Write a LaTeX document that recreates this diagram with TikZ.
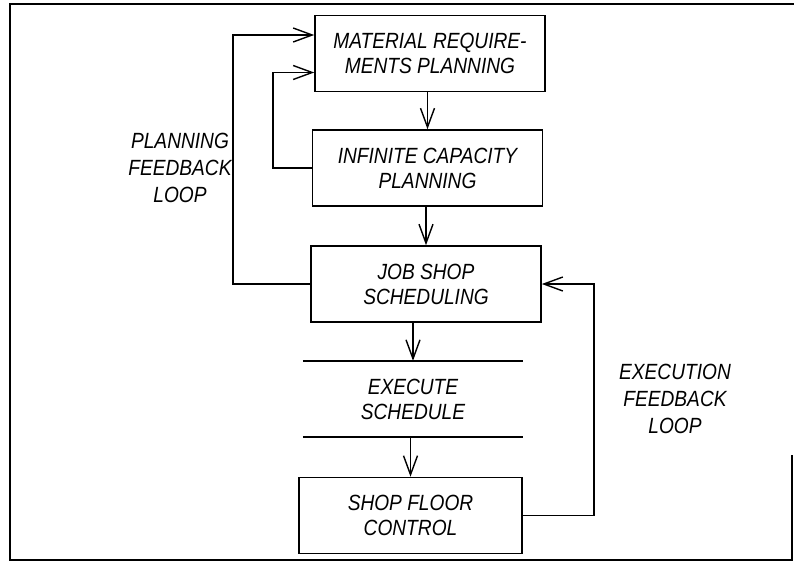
\documentclass[tikz,border=0pt]{standalone}
\usepackage{fontspec}
\newfontfamily\lettering[FakeStretch=0.87]{Liberation Sans}
\usetikzlibrary{positioning, arrows.meta}

\begin{document}
\begin{tikzpicture}[x=1pt, y=-1pt,
  stage/.style={draw, line width=1.6pt, minimum width=230pt, minimum height=76pt, inner sep=0pt},
  txt/.style={align=center, font=\lettering\itshape\fontsize{22}{25}\selectfont},
  looptxt/.style={align=center, font=\lettering\itshape\fontsize{22}{27}\selectfont},
  flow/.style={line width=1.6pt, -{Straight Barb[length=19pt, width=14pt, line width=1.4pt]}}]
\useasboundingbox (0,0) rectangle (794,565);
% frame
\draw[line width=2.5pt] (792,455) -- (792,560) -- (10,560) -- (10,4) -- (794,4);

% planning stages
\node[stage, txt] (mrp) at (430,53.5) {MATERIAL REQUIRE-\\MENTS PLANNING};
\node[stage, txt] (icp) at (427.5,168) {INFINITE CAPACITY\\PLANNING};
\node[stage, txt] (jss) at (426,284) {JOB SHOP\\SCHEDULING};

% execution between two lines
\node[txt, minimum width=220pt, minimum height=76pt] (exe) at (413,399) {EXECUTE\\SCHEDULE};
\draw[line width=1.6pt] (exe.north west) -- (exe.north east);
\draw[line width=1.6pt] (exe.south west) -- (exe.south east);

\node[stage, txt, minimum width=223pt] (sfc) at (410.5,515.5) {SHOP FLOOR\\CONTROL};

% loop labels
\node[looptxt] (planloop) at (180,168) {PLANNING\\FEEDBACK\\LOOP};
\node[looptxt] (execloop) at (675,399) {EXECUTION\\FEEDBACK\\LOOP};

% main flow
\draw[flow] (mrp.south -| icp.north) -- (icp.north);
\draw[flow] (icp.south -| jss.north) -- (jss.north);
\draw[flow] (jss.south -| exe.north) -- (exe.north);
\draw[flow] (exe.south -| sfc.north) -- (sfc.north);

% feedback loops
\draw[flow] (jss.west) -- ++(-77,0) |- ([yshift=18.5pt]mrp.west);
\draw[flow] (icp.west) -- ++(-39,0) |- ([yshift=-19pt]mrp.west);
\draw[flow] (sfc.east) -- ++(71,0) |- (jss.east);
\end{tikzpicture}
\end{document}
